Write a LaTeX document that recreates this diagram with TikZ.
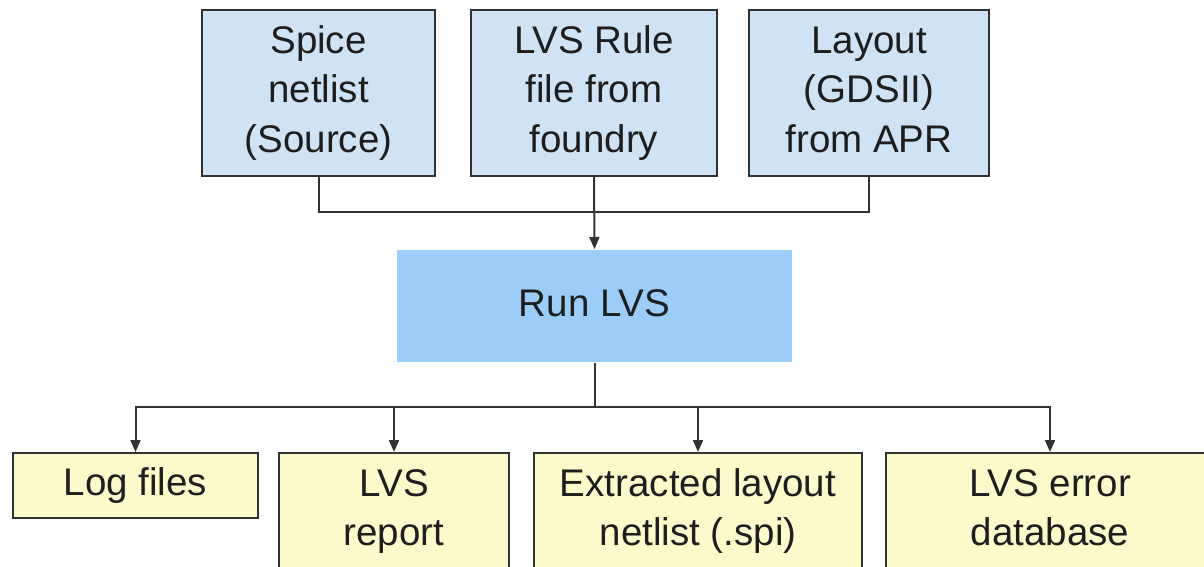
\documentclass[tikz,border=0pt]{standalone}
\usepackage{fontspec}
\setmainfont{Liberation Sans}
\usetikzlibrary{arrows.meta}
\definecolor{topblue}{RGB}{207,227,244}
\definecolor{runblue}{RGB}{155,205,248}
\definecolor{outyellow}{RGB}{252,250,202}
\definecolor{edge}{RGB}{50,50,50}
\definecolor{txt}{RGB}{30,30,30}
\begin{document}
\begin{tikzpicture}[x=1pt,y=-1pt,
  box/.style={draw=edge, line width=2pt, inner sep=0pt, align=center, text=txt,
    font=\fontsize{38.5}{50}\selectfont},
  inbox/.style={box, fill=topblue, minimum height=166pt},
  runbox/.style={box, fill=runblue, draw=none, minimum height=112pt},
  outbox/.style={box, fill=outyellow, font=\fontsize{38.5}{49}\selectfont},
  conn/.style={draw=edge, line width=2pt},
  arr/.style={conn, -{Triangle[length=12pt,width=10pt]}}]
\useasboundingbox (0,0) rectangle (1204,567);
\node[inbox, minimum width=233pt] (spice) at (318.5,93) {\strut Spice\\\strut netlist\\\strut (Source)};
\node[inbox, minimum width=246pt] (rule) at (594,93) {\strut LVS Rule\\\strut file from\\\strut foundry};
\node[inbox, minimum width=240pt] (layout) at (869,93) {\strut Layout\\\strut (GDSII)\\\strut from APR};
\node[runbox, minimum width=395pt] (run) at (594.5,306) {\strut Run LVS};
\node[outbox, minimum width=245pt, minimum height=65pt] (log) at (135.5,485.5) {\strut Log files};
\node[outbox, minimum width=230pt, minimum height=117pt] (report) at (394,511.5) {\strut LVS\\\strut report};
\node[outbox, minimum width=328pt, minimum height=117pt] (extr) at (698,511.5) {\strut Extracted layout\\\strut netlist (.spi)};
\node[outbox, minimum width=328pt, minimum height=117pt] (err) at (1050,511.5) {\strut LVS error\\\strut database};
\coordinate (jt) at (0,212);
\coordinate (jb) at (0,407);
\draw[conn] (spice.south) |- (layout.south |- jt) -- (layout.south);
\draw[arr] (rule.south) -- (run.north);
\draw[conn] (run.south) -- (run.south |- jb);
\draw[arr] (run.south |- jb) -| (log.north);
\draw[arr] (run.south |- jb) -| (report.north);
\draw[arr] (run.south |- jb) -| (extr.north);
\draw[arr] (run.south |- jb) -| (err.north);
\end{tikzpicture}
\end{document}
